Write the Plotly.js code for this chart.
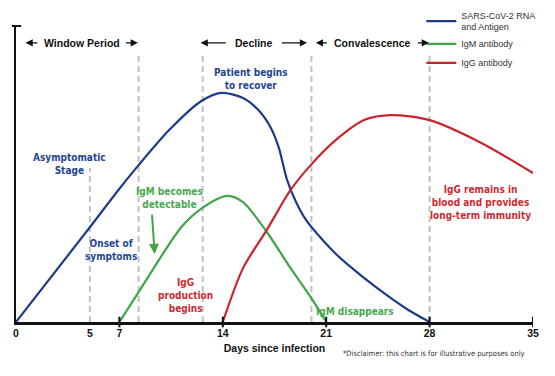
<!DOCTYPE html>
<html>
<head>
<meta charset="utf-8">
<script src="https://cdn.plot.ly/plotly-3.0.1.min.js"></script>
<style>html,body{margin:0;padding:0;background:#fff;}#chart{width:555px;height:376px;}</style>
</head>
<body>
<div id="chart"></div>
<script>
// ---- data (days since infection, relative level 0-100) ----
const seriesNames = ["SARS-CoV-2 RNA<br>and Antigen", "IgM antibody", "IgG antibody"];
const blueDays = [0, 5, 7, 8.3, 10.4, 12.5, 13.9, 15.37, 16.41, 17.22, 17.78, 18.35, 18.99, 19.63, 20.76, 21.66, 22.65, 24.3, 26.48, 28];
const blueVals = [0, 32, 45, 53, 65, 74.5, 77.4, 75.7, 71.6, 65.9, 59.1, 48.0, 40.2, 34.5, 27.7, 23.0, 18.6, 12.0, 4.3, 0];
const greenDays = [7, 8.3, 11.2, 12.6, 14.3, 15.37, 16.98, 18.59, 19.95, 21];
const greenVals = [0, 10.1, 32.1, 38.5, 42.6, 40.5, 30.4, 18.2, 8.4, 0];
const redDays = [14, 15.37, 16.98, 18.59, 19.95, 21.66, 23.6, 25.4, 28, 31.5, 35];
const redVals = [0, 18.2, 31.1, 44.6, 53, 61.5, 68.3, 69.9, 68.2, 60.5, 50.3];

const tickDays = [0, 5, 7, 14, 21, 28, 35];
const tickLabels = ["0", "5", "7", "14", "21", "28", "35"];
const tickMarkDays = [7, 14, 21, 28, 35];

const phaseDays = [5, 8.3, 12.64, 20, 28];
const phaseTops = [52, 91, 91, 91, 91];

const phaseNames = ["Window Period", "Decline", "Convalescence"];
const phaseCenters = [4.45, 16.1, 24.15];
const phaseStarts = [0.65, 12.5, 20.3];
const phaseEnds = [8.25, 19.7, 27.95];
const phaseInnerL = [1.55, 14.3, 21.15];
const phaseInnerR = [7.35, 17.9, 27.1];
const phaseY = 94.3;

const notes = [
  {text: "Patient begins<br>to recover", x: 15.9, y: 82.1, c: 0},
  {text: "Asymptomatic<br>Stage", x: 3.65, y: 53.4, c: 0},
  {text: "Onset of<br>symptoms", x: 6.43, y: 24.3, c: 0},
  {text: "IgM becomes<br>detectable", x: 10.37, y: 41.9, c: 1},
  {text: "IgG<br>production<br>begins", x: 11.47, y: 8.8, c: 2},
  {text: "IgM disappears", x: 22.98, y: 3.7, c: 1},
  {text: "IgG remains in<br>blood and provides<br>long-term immunity", x: 31.47, y: 40.5, c: 2}
];
const igmArrowTail = [9.2, 36.8];
const igmArrowHead = [9.39, 23.0];

// ---- styling ----
const lineColors = ["#1d3c87", "#3fa548", "#c8252f"];
const textColors = ["#244592", "#47a84d", "#cc2a33"];
const narrow = "'Liberation Sans Narrow', 'DejaVu Sans Condensed', Roboto, sans-serif";
const sans = "'Liberation Sans', Arial, Helvetica, sans-serif";

const traces = [
  {x: blueDays, y: blueVals, name: seriesNames[0], mode: "lines", line: {color: lineColors[0], width: 2.2, shape: "spline", smoothing: 0.8}},
  {x: greenDays, y: greenVals, name: seriesNames[1], mode: "lines", line: {color: lineColors[1], width: 2.2, shape: "spline", smoothing: 0.8}},
  {x: redDays, y: redVals, name: seriesNames[2], mode: "lines", line: {color: lineColors[2], width: 2.2, shape: "spline", smoothing: 0.8}}
];

const shapes = [];
phaseDays.forEach((d, i) => {
  shapes.push({type: "line", xref: "x", yref: "y", x0: d, x1: d, y0: 0, y1: phaseTops[i],
    line: {color: "#c2c2c2", width: 2, dash: "6px,4px"}, layer: "below"});
});
tickMarkDays.forEach(d => {
  shapes.push({type: "line", xref: "x", yref: "paper", x0: d, x1: d, y0: -0.018, y1: 0.018,
    line: {color: "#111", width: 2}});
});
// cap on top of the y axis
shapes.push({type: "line", xref: "paper", yref: "paper", x0: -0.008, x1: 0.01, y0: 1, y1: 1,
  line: {color: "#111", width: 2}});

const annotations = [];
phaseNames.forEach((n, i) => {
  annotations.push({x: phaseCenters[i], y: phaseY, xref: "x", yref: "y", text: n, showarrow: false,
    font: {family: sans, size: 10.5, color: "#111", weight: "bold"}});
  annotations.push({x: phaseStarts[i], y: phaseY, ax: phaseInnerL[i], ay: phaseY, xref: "x", yref: "y",
    axref: "x", ayref: "y", text: "", showarrow: true, arrowhead: 2, arrowsize: 1.1, arrowwidth: 1.3, arrowcolor: "#111"});
  annotations.push({x: phaseEnds[i], y: phaseY, ax: phaseInnerR[i], ay: phaseY, xref: "x", yref: "y",
    axref: "x", ayref: "y", text: "", showarrow: true, arrowhead: 2, arrowsize: 1.1, arrowwidth: 1.3, arrowcolor: "#111"});
});
notes.forEach(n => {
  annotations.push({x: n.x, y: n.y, xref: "x", yref: "y", text: n.text, showarrow: false,
    font: {family: narrow, size: 10, color: textColors[n.c], weight: "bold"}, align: "center"});
});
annotations.push({x: igmArrowHead[0], y: igmArrowHead[1], ax: igmArrowTail[0], ay: igmArrowTail[1],
  xref: "x", yref: "y", axref: "x", ayref: "y", text: "", showarrow: true, arrowhead: 2, arrowsize: 1,
  arrowwidth: 2, arrowcolor: lineColors[1]});
annotations.push({x: 0.988, y: -0.105, xref: "paper", yref: "paper", xanchor: "right", yanchor: "middle",
  text: "*Disclaimer: this chart is for illustrative purposes only", showarrow: false,
  font: {family: narrow, size: 7.5, color: "#333"}});

const layout = {
  width: 555, height: 376,
  margin: {l: 16, r: 22, t: 26, b: 54, autoexpand: false},
  paper_bgcolor: "#fff", plot_bgcolor: "#fff",
  showlegend: true,
  legend: {x: 0.784, y: 1.078, xanchor: "left", yanchor: "top", font: {family: sans, size: 9, color: "#333"},
    bgcolor: "rgba(0,0,0,0)", itemwidth: 30, tracegroupgap: 0},
  xaxis: {range: [0, 35], tickvals: tickDays, ticktext: tickLabels, ticks: "", showgrid: false, zeroline: false,
    showline: true, linecolor: "#111", linewidth: 2.5, automargin: false,
    tickfont: {family: sans, size: 10.5, color: "#111", weight: "bold"},
    title: {text: "Days since infection", font: {family: sans, size: 10.5, color: "#111", weight: "bold"}, standoff: 7},
    fixedrange: true},
  yaxis: {range: [0, 100], showticklabels: false, ticks: "", showgrid: false, zeroline: false,
    showline: true, linecolor: "#111", linewidth: 2.5, automargin: false, fixedrange: true},
  shapes: shapes,
  annotations: annotations
};

Plotly.newPlot("chart", traces, layout, {displayModeBar: false, staticPlot: true});
</script>
</body>
</html>
